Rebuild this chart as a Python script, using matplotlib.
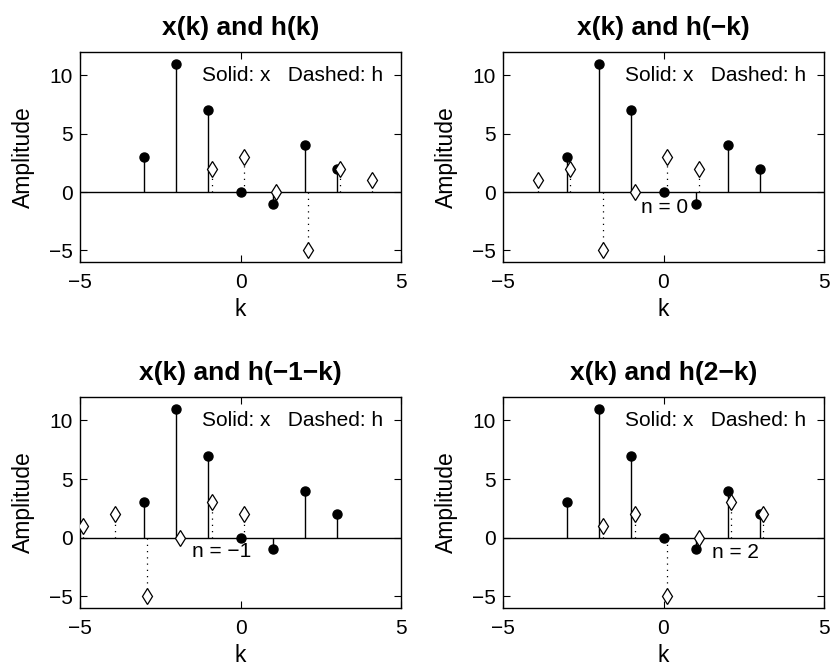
import numpy as np
import matplotlib.pyplot as plt

plt.rcParams['font.family'] = ['Liberation Sans', 'DejaVu Sans']

# input sequence x(k)
k_x = [-3, -2, -1, 0, 1, 2, 3]
x_vals = [3, 11, 7, 0, -1, 4, 2]

# impulse response h(k)
k_h = [-1, 0, 1, 2, 3, 4]
h_vals = [2, 3, 0, -5, 2, 1]

# folded / shifted versions: h(n-k)
shifts = [None, 0, -1, 2]
titles = ['x(k) and h(k)', 'x(k) and h(\u2212k)',
          'x(k) and h(\u22121\u2212k)', 'x(k) and h(2\u2212k)']
n_labels = [None, 'n = 0', 'n = \u22121', 'n = 2']
n_label_pos = [None, (-0.7, -1.3), (-1.5, -1.2), (1.5, -1.3)]

fig = plt.figure(figsize=(8.33, 6.68), dpi=100)
W, H = 833, 668
boxes = [(80, 52, 401, 262), (503, 52, 824, 262),
         (80, 397, 401, 608), (503, 397, 824, 608)]

FS = 15
LFS = 16.5

for i, (l, t, r, b) in enumerate(boxes):
    ax = fig.add_axes([l / W, 1 - b / H, (r - l) / W, (b - t) / H])
    n = shifts[i]
    if n is None:
        kh = np.array(k_h, dtype=float)
    else:
        kh = n - np.array(k_h, dtype=float)
    hv = np.array(h_vals, dtype=float)
    kh_plot = kh + 0.1

    ax.axhline(0, color='black', lw=1.0, zorder=1)
    # x stems
    ax.vlines(k_x, 0, x_vals, color='black', lw=1.0, zorder=2)
    ax.plot(k_x, x_vals, 'o', color='black', ms=6.5, zorder=4)
    # h stems (dotted)
    ax.vlines(kh_plot, 0, hv, color='black', lw=0.9, linestyles=(0, (1, 4)), zorder=2)
    ax.plot(kh_plot, hv, 'd', mfc='white', mec='black', mew=0.9, ms=8.5, zorder=5)

    ax.set_xlim(-5, 5)
    ax.set_ylim(-6, 12)
    ax.set_xticks([-5, 0, 5])
    ax.set_yticks([-5, 0, 5, 10])
    ax.set_xticklabels(['\u22125', '0', '5'])
    ax.set_yticklabels(['\u22125', '0', '5', '10'])
    ax.tick_params(direction='in', top=True, right=True, length=5,
                   labelsize=FS, width=0.8)
    ax.tick_params(axis='x', pad=8)
    ax.tick_params(axis='y', pad=5)
    for s in ax.spines.values():
        s.set_linewidth(1.0)
    ax.set_xlabel('k', fontsize=LFS, labelpad=4)
    ax.set_ylabel('Amplitude', fontsize=LFS, labelpad=10)
    ax.set_title(titles[i], fontsize=19, fontweight='bold', pad=12)
    ax.text(-1.2, 10, 'Solid: x   Dashed: h', fontsize=FS, va='center', ha='left')
    if n_labels[i]:
        x0, y0 = n_label_pos[i]
        ax.text(x0, y0, n_labels[i], fontsize=FS, va='center', ha='left')

fig.savefig('out.png', dpi=100)
